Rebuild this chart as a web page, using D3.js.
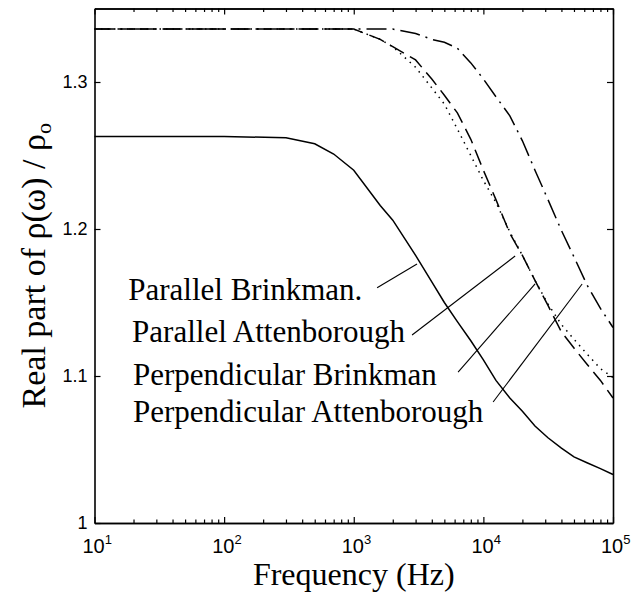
<!DOCTYPE html>
<html><head><meta charset="utf-8">
<script src="https://cdn.jsdelivr.net/npm/d3@7"></script>
<style>body{margin:0;background:#fff}svg{display:block}</style>
</head><body>
<svg id="c" width="632" height="594"></svg>
<script>
// ---- data ----
const freqHz = [10, 100, 300, 500, 700, 1000, 1600, 2000, 3000, 4000, 5000, 6300, 8000, 10000,
                12500, 16000, 20000, 25000, 31500, 40000, 50000, 63000, 80000, 100000];
const parallelBrinkman = [1.263, 1.263, 1.262, 1.258, 1.251, 1.240, 1.216, 1.206, 1.182, 1.164, 1.150, 1.137, 1.124,
                          1.111, 1.097, 1.085, 1.076, 1.066, 1.058, 1.051, 1.045, 1.041, 1.037, 1.033];
const parallelAttenborough = [1.336, 1.336, 1.336, 1.336, 1.336, 1.336, 1.329, 1.324, 1.315, 1.302, 1.291, 1.279, 1.261,
                              1.240, 1.220, 1.197, 1.182, 1.165, 1.148, 1.130, 1.119, 1.108, 1.097, 1.085];
const perpendicularBrinkman = [1.336, 1.336, 1.336, 1.336, 1.336, 1.336, 1.329, 1.324, 1.310, 1.296, 1.285, 1.268, 1.250,
                               1.233, 1.218, 1.198, 1.182, 1.165, 1.149, 1.135, 1.125, 1.115, 1.105, 1.099];
const perpendicularAttenborough = [1.336, 1.336, 1.336, 1.336, 1.336, 1.336, 1.336, 1.336, 1.333, 1.329, 1.327, 1.323, 1.313,
                                   1.302, 1.290, 1.277, 1.260, 1.240, 1.220, 1.199, 1.181, 1.162, 1.146, 1.133];
const yTicks = [1, 1.1, 1.2, 1.3];
const yTickLabels = ["1", "1.1", "1.2", "1.3"];
const xTickExponents = [1, 2, 3, 4, 5];
const legendLabels = ["Parallel Brinkman.", "Parallel Attenborough", "Perpendicular Brinkman", "Perpendicular Attenborough"];
const legendTextFreq = [18.2, 19.5, 19.8, 19.8];
const legendTextValue = [1.1517, 1.1231, 1.0939, 1.0687];
const leaderStartFreq = [1514, 2818, 6383, 11885];
const leaderStartValue = [1.160, 1.1279, 1.1027, 1.0823];
const leaderTipFreq = [3076, 17580, 25060, 57810];
const leaderTipValue = [1.1762, 1.1816, 1.1626, 1.1626];

// ---- drawing ----
const svg = d3.select("#c");
const x = d3.scaleLog().domain([10, 1e5]).range([94.5, 613]);
const y = d3.scaleLinear().domain([1, 1.35]).range([523, 8.5]);

const series = [
  {v: parallelBrinkman, dash: null},
  {v: parallelAttenborough, dash: "16,7"},
  {v: perpendicularBrinkman, dash: "1.5,5"},
  {v: perpendicularAttenborough, dash: "20,6,2,6"}
];
const line = d3.line().x(d => x(d[0])).y(d => y(d[1]));
series.forEach(s => {
  svg.append("path")
    .attr("d", line(freqHz.map((f, i) => [f, s.v[i]])))
    .attr("fill", "none").attr("stroke", "#000").attr("stroke-width", 1.5)
    .attr("stroke-dasharray", s.dash);
});

// axes (MATLAB-like box with inward ticks)
const minorTicks = [];
for (let e = 1; e < 5; e++) for (let m = 2; m <= 9; m++) minorTicks.push(m * Math.pow(10, e));
const majorX = xTickExponents.map(e => Math.pow(10, e));

const axBottom = d3.axisBottom(x).tickValues(majorX).tickSizeInner(-6).tickSizeOuter(0).tickFormat("");
const axBottomMinor = d3.axisBottom(x).tickValues(minorTicks).tickSizeInner(-3.5).tickSizeOuter(0).tickFormat("");
const axTop = d3.axisTop(x).tickValues(majorX).tickSizeInner(-6).tickSizeOuter(0).tickFormat("");
const axTopMinor = d3.axisTop(x).tickValues(minorTicks).tickSizeInner(-3.5).tickSizeOuter(0).tickFormat("");
const axLeft = d3.axisLeft(y).tickValues(yTicks).tickSizeInner(-6).tickSizeOuter(0).tickFormat("");
const axRight = d3.axisRight(y).tickValues(yTicks).tickSizeInner(-6).tickSizeOuter(0).tickFormat("");

const gB = svg.append("g").attr("transform", `translate(0,${y(1)})`);
gB.call(axBottom); gB.append("g").call(axBottomMinor);
const gT = svg.append("g").attr("transform", `translate(0,${y(1.35)})`);
gT.call(axTop); gT.append("g").call(axTopMinor);
svg.append("g").attr("transform", `translate(${x(10)},0)`).call(axLeft);
svg.append("g").attr("transform", `translate(${x(1e5)},0)`).call(axRight);
svg.selectAll(".domain").attr("stroke", "#000").attr("stroke-width", 1.6);
svg.selectAll(".tick line").attr("stroke", "#000").attr("stroke-width", 1.2);

// y tick labels
svg.append("g").selectAll("text").data(yTicks).join("text")
  .attr("x", x(10) - 7).attr("y", d => y(d)).attr("dy", "0.35em")
  .attr("text-anchor", "end")
  .style("font-family", "'Liberation Sans', Arial, sans-serif").style("font-size", "18px")
  .text((d, i) => yTickLabels[i]);

// x tick labels 10^n
const xl = svg.append("g").selectAll("text").data(xTickExponents).join("text")
  .attr("x", d => x(Math.pow(10, d)) - 12).attr("y", 553)
  .style("font-family", "'Liberation Sans', Arial, sans-serif").style("font-size", "20px");
xl.append("tspan").text("10");
xl.append("tspan").attr("dy", -9).style("font-size", "13px").text(d => d);

// axis titles
svg.append("text").attr("x", x(Math.pow(10, 3))).attr("y", 585)
  .attr("text-anchor", "middle")
  .style("font-family", "'Liberation Serif', 'Times New Roman', serif").style("font-size", "32px")
  .text("Frequency (Hz)");
const yt = svg.append("text").attr("transform", `translate(45,${(y(1) + y(1.35)) / 2}) rotate(-90)`)
  .attr("text-anchor", "middle")
  .style("font-family", "'Liberation Serif', 'Times New Roman', serif").style("font-size", "34px");
yt.append("tspan").text("Real part of ρ(ω) / ρ");
yt.append("tspan").attr("dy", 6).style("font-size", "22px").text("o");

// annotations
legendLabels.forEach((t, i) => {
  svg.append("text").attr("x", x(legendTextFreq[i])).attr("y", y(legendTextValue[i]))
    .style("font-family", "'Liberation Serif', 'Times New Roman', serif").style("font-size", "31px")
    .text(t);
  svg.append("line")
    .attr("x1", x(leaderStartFreq[i])).attr("y1", y(leaderStartValue[i]))
    .attr("x2", x(leaderTipFreq[i])).attr("y2", y(leaderTipValue[i]))
    .attr("stroke", "#000").attr("stroke-width", 1.1);
});
</script>
</body></html>
